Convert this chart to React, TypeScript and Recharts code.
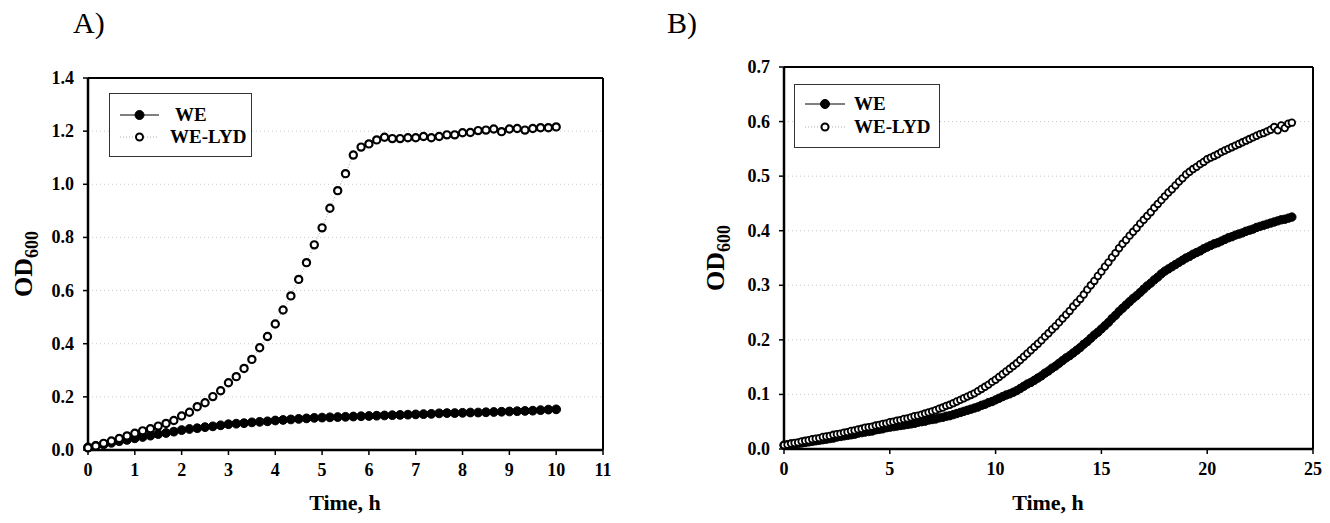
import React from "react";
import { LineChart, Line, XAxis, YAxis, CartesianGrid, ReferenceLine } from "recharts";

// sampling times in minutes (every 10 min)
const TIME_MIN = [
  0, 10, 20, 30, 40, 50, 60, 70, 80, 90, 100, 110,
  120, 130, 140, 150, 160, 170, 180, 190, 200, 210, 220, 230,
  240, 250, 260, 270, 280, 290, 300, 310, 320, 330, 340, 350,
  360, 370, 380, 390, 400, 410, 420, 430, 440, 450, 460, 470,
  480, 490, 500, 510, 520, 530, 540, 550, 560, 570, 580, 590,
  600, 610, 620, 630, 640, 650, 660, 670, 680, 690, 700, 710,
  720, 730, 740, 750, 760, 770, 780, 790, 800, 810, 820, 830,
  840, 850, 860, 870, 880, 890, 900, 910, 920, 930, 940, 950,
  960, 970, 980, 990, 1000, 1010, 1020, 1030, 1040, 1050, 1060, 1070,
  1080, 1090, 1100, 1110, 1120, 1130, 1140, 1150, 1160, 1170, 1180, 1190,
  1200, 1210, 1220, 1230, 1240, 1250, 1260, 1270, 1280, 1290, 1300, 1310,
  1320, 1330, 1340, 1350, 1360, 1370, 1380, 1390, 1400, 1410, 1420, 1430,
  1440,
];

// Panel A (0-10 h)
const WE_A = [
  0.010, 0.016, 0.021, 0.027, 0.033, 0.038, 0.044,
  0.049, 0.054, 0.060, 0.064, 0.069, 0.075,
  0.079, 0.082, 0.086, 0.089, 0.093, 0.097,
  0.099, 0.101, 0.104, 0.106, 0.108, 0.111,
  0.113, 0.115, 0.117, 0.119, 0.121, 0.122,
  0.123, 0.124, 0.125, 0.126, 0.127, 0.128,
  0.129, 0.130, 0.131, 0.132, 0.133, 0.134,
  0.135, 0.136, 0.138, 0.139, 0.139, 0.140,
  0.141, 0.141, 0.142, 0.143, 0.144, 0.145,
  0.146, 0.147, 0.148, 0.150, 0.152, 0.153,
];
const LYD_A = [
  0.008, 0.015, 0.025, 0.034, 0.043, 0.053, 0.063, 0.072, 0.080, 0.090,
  0.100, 0.111, 0.128, 0.142, 0.163, 0.178, 0.201, 0.223, 0.253, 0.276,
  0.307, 0.341, 0.385, 0.427, 0.474, 0.527, 0.580, 0.642, 0.705,
  0.772, 0.836, 0.910, 0.976, 1.040, 1.110, 1.140, 1.152, 1.167, 1.177,
  1.172, 1.172, 1.175, 1.175, 1.180, 1.175, 1.180, 1.186, 1.186, 1.194,
  1.195, 1.202, 1.204, 1.208, 1.198, 1.208, 1.210, 1.204, 1.210, 1.213,
  1.213, 1.216,
];

// Panel B (0-24 h)
const WE_B = [
  0.007, 0.008, 0.009, 0.009, 0.010, 0.011,
  0.012, 0.013, 0.014, 0.015, 0.016, 0.017,
  0.018, 0.019, 0.020, 0.022, 0.023, 0.024,
  0.025, 0.026, 0.027, 0.029, 0.030, 0.031,
  0.032, 0.033, 0.035, 0.036, 0.037, 0.039,
  0.040, 0.041, 0.042, 0.043, 0.044, 0.045,
  0.046, 0.047, 0.049, 0.050, 0.051, 0.053,
  0.054, 0.055, 0.057, 0.058, 0.060, 0.061,
  0.063, 0.065, 0.067, 0.069, 0.071, 0.073,
  0.075, 0.077, 0.080, 0.082, 0.085, 0.087,
  0.090, 0.093, 0.096, 0.099, 0.101, 0.104,
  0.107, 0.111, 0.115, 0.119, 0.122, 0.126,
  0.130, 0.134, 0.139, 0.143, 0.148, 0.152,
  0.157, 0.162, 0.167, 0.171, 0.176, 0.181,
  0.186, 0.192, 0.197, 0.203, 0.209, 0.214,
  0.220, 0.226, 0.232, 0.239, 0.245, 0.252,
  0.258, 0.264, 0.270, 0.276, 0.281, 0.287,
  0.293, 0.299, 0.304, 0.310, 0.315, 0.321,
  0.326, 0.330, 0.334, 0.338, 0.342, 0.346,
  0.350, 0.353, 0.357, 0.360, 0.363, 0.367,
  0.370, 0.373, 0.376, 0.378, 0.381, 0.384,
  0.387, 0.389, 0.392, 0.394, 0.396, 0.399,
  0.401, 0.403, 0.406, 0.408, 0.410, 0.412,
  0.414, 0.416, 0.418, 0.420, 0.421, 0.423,
  0.425,
];
const LYD_B = [
  0.007, 0.008, 0.010, 0.011, 0.012, 0.014,
  0.015, 0.016, 0.018, 0.019, 0.020, 0.022,
  0.023, 0.024, 0.026, 0.027, 0.028, 0.030,
  0.031, 0.033, 0.034, 0.036, 0.037, 0.039,
  0.040, 0.041, 0.043, 0.044, 0.046, 0.047,
  0.049, 0.050, 0.052, 0.053, 0.055, 0.056,
  0.058, 0.060, 0.061, 0.063, 0.065, 0.067,
  0.069, 0.071, 0.074, 0.076, 0.079, 0.081,
  0.084, 0.087, 0.090, 0.093, 0.096, 0.099,
  0.102, 0.106, 0.110, 0.114, 0.118, 0.123,
  0.127, 0.132, 0.137, 0.142, 0.147, 0.152,
  0.157, 0.163, 0.169, 0.175, 0.181, 0.187,
  0.193, 0.199, 0.206, 0.212, 0.219, 0.225,
  0.232, 0.239, 0.246, 0.253, 0.261, 0.268,
  0.275, 0.283, 0.292, 0.300, 0.308, 0.317,
  0.325, 0.334, 0.342, 0.351, 0.359, 0.368,
  0.376, 0.383, 0.391, 0.398, 0.405, 0.413,
  0.420, 0.427, 0.434, 0.442, 0.449, 0.456,
  0.463, 0.470, 0.476, 0.483, 0.490, 0.496,
  0.503, 0.508, 0.513, 0.517, 0.522, 0.526,
  0.531, 0.534, 0.537, 0.540, 0.544, 0.547,
  0.550, 0.553, 0.556, 0.559, 0.562, 0.565,
  0.568, 0.571, 0.574, 0.577, 0.579, 0.582,
  0.585, 0.590, 0.584, 0.593, 0.588, 0.596,
  0.598,
];

const X_TICKS_A = [0, 60, 120, 180, 240, 300, 360, 420, 480, 540, 600, 660];
const Y_TICKS_A = [0, 0.2, 0.4, 0.6, 0.8, 1.0, 1.2, 1.4];
const X_TICKS_B = [0, 300, 600, 900, 1200, 1500];
const Y_TICKS_B = [0, 0.1, 0.2, 0.3, 0.4, 0.5, 0.6, 0.7];

const FONT = '"Liberation Serif", "Times New Roman", serif';

const dataA = TIME_MIN.slice(0, WE_A.length).map((t, i) => ({ t, we: WE_A[i], lyd: LYD_A[i] }));
const dataB = TIME_MIN.map((t, i) => ({ t, we: WE_B[i], lyd: LYD_B[i] }));

const XTick = ({ x, y, payload }: any) => (
  <text
    x={x}
    y={y}
    dy={13}
    textAnchor="middle"
    style={{ fontFamily: FONT, fontWeight: "bold", fontSize: 18, fill: "#000" }}
  >
    {String(payload.value / 60)}
  </text>
);

const YTick = ({ x, y, payload }: any) => (
  <text
    x={x}
    y={y}
    dy={6}
    textAnchor="end"
    style={{ fontFamily: FONT, fontWeight: "bold", fontSize: 18, fill: "#000" }}
  >
    {Number(payload.value).toFixed(1)}
  </text>
);

function Panel({ data, xTicks, yTicks, xMax, yMax, width, margin, rWe, rLyd, lydStroke }: any) {
  return (
    <LineChart width={width} height={523} data={data} margin={margin}>
      <CartesianGrid horizontal vertical={false} stroke="#c8c8c8" strokeDasharray="1 3" />
      <XAxis
        type="number"
        dataKey="t"
        domain={[0, xMax]}
        ticks={xTicks}
        height={30}
        tickSize={5}
        tickMargin={8}
        tick={<XTick />}
        axisLine={{ stroke: "#000", strokeWidth: 2.5 }}
        tickLine={{ stroke: "#000", strokeWidth: 1.5 }}
      />
      <YAxis
        type="number"
        domain={[0, yMax]}
        ticks={yTicks}
        width={70}
        tickSize={5}
        tickMargin={9}
        tick={<YTick />}
        axisLine={{ stroke: "#000", strokeWidth: 2.5 }}
        tickLine={{ stroke: "#000", strokeWidth: 1.5 }}
      />
      <ReferenceLine y={yMax} stroke="#000" strokeWidth={2} />
      <ReferenceLine x={xMax} stroke="#000" strokeWidth={2} />
      <Line
        dataKey="we"
        stroke="#000"
        strokeWidth={1}
        dot={{ r: rWe, fill: "#000", stroke: "#000", strokeWidth: 1 }}
        isAnimationActive={false}
      />
      <Line
        dataKey="lyd"
        stroke="#aaa"
        strokeWidth={1}
        strokeDasharray="1 2"
        dot={{ r: rLyd, fill: "#fff", stroke: "#000", strokeWidth: lydStroke, strokeDasharray: "0" }}
        isAnimationActive={false}
      />
    </LineChart>
  );
}

function LegendBox({ left, top, width, rows }: any) {
  return (
    <svg style={{ position: "absolute", left, top }} width={width} height={64}>
      <rect x={0.5} y={0.5} width={width - 1} height={63} fill="#fff" stroke="#333" strokeWidth={1} />
      {rows.map((r: any) => (
        <g key={r.label}>
          <line
            x1={r.x1}
            x2={r.x2}
            y1={r.y}
            y2={r.y}
            stroke={r.open ? "#aaa" : "#000"}
            strokeWidth={1}
            strokeDasharray={r.open ? "1 2" : undefined}
          />
          <circle
            cx={(r.x1 + r.x2) / 2}
            cy={r.y}
            r={r.open ? 3.5 : 4.5}
            fill={r.open ? "#fff" : "#000"}
            stroke="#000"
            strokeWidth={r.open ? 2 : 1}
          />
          <text
            x={r.tx}
            y={r.y}
            dy={6}
            style={{ fontFamily: FONT, fontWeight: "bold", fontSize: 19, fill: "#000" }}
          >
            {r.label}
          </text>
        </g>
      ))}
    </svg>
  );
}

function OdLabel({ cx, cy }: any) {
  return (
    <div
      style={{
        position: "absolute",
        left: cx - 60,
        top: cy - 15,
        width: 120,
        height: 30,
        lineHeight: "30px",
        textAlign: "center",
        transform: "rotate(-90deg)",
        fontFamily: FONT,
        fontWeight: "bold",
        fontSize: 26,
      }}
    >
      OD<span style={{ fontSize: 18, position: "relative", top: 6 }}>600</span>
    </div>
  );
}

function TimeLabel({ cx }: any) {
  return (
    <div
      style={{
        position: "absolute",
        left: cx - 100,
        top: 492,
        width: 200,
        textAlign: "center",
        lineHeight: 1,
        fontFamily: FONT,
        fontWeight: "bold",
        fontSize: 22,
      }}
    >
      Time, h
    </div>
  );
}

const panelTitle = {
  position: "absolute" as const,
  top: 8,
  fontFamily: FONT,
  fontSize: 30,
  lineHeight: 1,
};

export default function App() {
  return (
    <div
      style={{
        position: "absolute",
        left: 0,
        top: 0,
        width: 1330,
        height: 523,
        background: "#fff",
        fontFamily: FONT,
        overflow: "hidden",
      }}
    >
      <div style={{ ...panelTitle, left: 73 }}>A)</div>
      <div style={{ ...panelTitle, left: 667 }}>B)</div>

      <div style={{ position: "absolute", left: 0, top: 0 }}>
        <Panel
          data={dataA}
          xTicks={X_TICKS_A}
          yTicks={Y_TICKS_A}
          xMax={660}
          yMax={1.4}
          width={620}
          margin={{ top: 78, right: 17, bottom: 43, left: 18 }}
          rWe={4.4}
          rLyd={3.6}
          lydStroke={2.2}
        />
      </div>
      <div style={{ position: "absolute", left: 660, top: 0 }}>
        <Panel
          data={dataB}
          xTicks={X_TICKS_B}
          yTicks={Y_TICKS_B}
          xMax={1500}
          yMax={0.7}
          width={670}
          margin={{ top: 67, right: 17, bottom: 44, left: 54 }}
          rWe={4.2}
          rLyd={3.3}
          lydStroke={1.8}
        />
      </div>

      <LegendBox
        left={109}
        top={93}
        width={143}
        rows={[
          { label: "WE", y: 22, x1: 11, x2: 50, tx: 66, open: false },
          { label: "WE-LYD", y: 44, x1: 11, x2: 50, tx: 61, open: true },
        ]}
      />
      <LegendBox
        left={794}
        top={84}
        width={146}
        rows={[
          { label: "WE", y: 20, x1: 11, x2: 51, tx: 60, open: false },
          { label: "WE-LYD", y: 43, x1: 11, x2: 51, tx: 60, open: true },
        ]}
      />

      <OdLabel cx={24} cy={264} />
      <OdLabel cx={716} cy={258} />
      <TimeLabel cx={345} />
      <TimeLabel cx={1048} />
    </div>
  );
}
